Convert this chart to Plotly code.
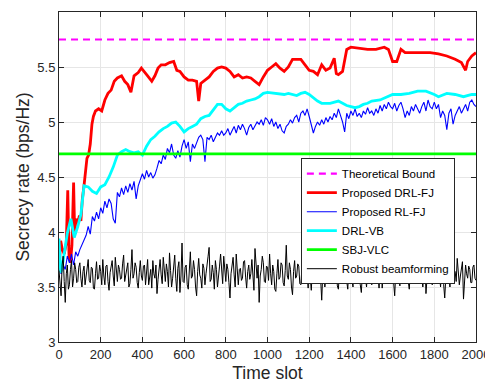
import plotly.graph_objects as go

# ---------------- data ----------------
bound_t = [0, 2000]
bound_v = [5.75, 5.75]

sbj_t = [0, 2000]
sbj_v = [4.71, 4.71]

drlfj_t = [0, 8, 15, 25, 35, 42, 48, 55, 62, 70, 75, 82, 90, 98, 105, 112, 120, 128, 134, 142,
           150, 158, 165, 175, 190, 205, 220, 235, 250, 265, 280, 300, 315, 330, 345, 360, 380,
           395, 410, 425, 445, 460, 475, 490, 510, 530, 550, 565, 580, 600, 620, 640, 660, 670,
           680, 700, 720, 740, 760, 780, 800, 820, 840, 860, 880, 900, 920, 940, 960, 980, 1000,
           1020, 1040, 1060, 1080, 1100, 1120, 1140, 1160, 1180, 1200, 1220, 1240, 1260, 1280,
           1300, 1320, 1330, 1340, 1360, 1380, 1400, 1440, 1480, 1520, 1560, 1580, 1600, 1620,
           1640, 1660, 1700, 1740, 1780, 1820, 1860, 1900, 1930, 1950, 1960, 1980, 2000]
drlfj_v = [3.65, 3.92, 3.85, 3.80, 3.90, 4.38, 3.78, 3.72, 3.88, 4.45, 4.00, 4.12, 4.08, 4.15,
           4.10, 4.30, 4.42, 4.60, 4.67, 4.70, 4.80, 4.98, 5.05, 5.10, 5.12, 5.10, 5.20, 5.26,
           5.29, 5.37, 5.40, 5.42, 5.37, 5.34, 5.27, 5.42, 5.45, 5.49, 5.45, 5.42, 5.37, 5.42,
           5.49, 5.52, 5.52, 5.54, 5.55, 5.47, 5.46, 5.41, 5.38, 5.38, 5.37, 5.19, 5.35, 5.38,
           5.41, 5.46, 5.49, 5.50, 5.49, 5.46, 5.41, 5.43, 5.40, 5.41, 5.40, 5.37, 5.34, 5.41,
           5.47, 5.50, 5.53, 5.49, 5.46, 5.50, 5.57, 5.57, 5.57, 5.52, 5.47, 5.46, 5.43, 5.52,
           5.47, 5.49, 5.58, 5.44, 5.43, 5.46, 5.66, 5.68, 5.67, 5.66, 5.66, 5.68, 5.66, 5.55,
           5.55, 5.66, 5.63, 5.63, 5.63, 5.63, 5.62, 5.60, 5.57, 5.54, 5.47, 5.55, 5.60, 5.63]

drlvb_t = [0, 8, 20, 40, 57, 73, 90, 105, 120, 140, 160, 180, 200, 220, 240, 260, 280, 300, 320,
           340, 360, 380, 400, 420, 440, 460, 480, 500, 520, 540, 560, 580, 600, 620, 640, 660,
           680, 700, 720, 740, 760, 780, 800, 820, 840, 860, 880, 900, 920, 940, 960, 980, 1000,
           1040, 1080, 1100, 1120, 1140, 1160, 1180, 1200, 1220, 1240, 1260, 1300, 1340, 1360,
           1380, 1400, 1420, 1440, 1460, 1480, 1500, 1540, 1580, 1600, 1640, 1680, 1720, 1760,
           1800, 1820, 1860, 1900, 1940, 1980, 2000]
drlvb_v = [3.94, 3.63, 3.74, 3.99, 4.12, 3.95, 4.05, 4.16, 4.42, 4.41, 4.37, 4.35, 4.41, 4.43,
           4.50, 4.59, 4.70, 4.73, 4.75, 4.73, 4.72, 4.73, 4.70, 4.78, 4.84, 4.87, 4.91, 4.94,
           4.96, 4.99, 5.00, 4.96, 4.91, 4.94, 4.96, 4.98, 5.03, 5.05, 5.06, 5.11, 5.16, 5.16,
           5.12, 5.10, 5.13, 5.16, 5.17, 5.19, 5.20, 5.21, 5.23, 5.26, 5.27, 5.26, 5.25, 5.26,
           5.25, 5.24, 5.26, 5.27, 5.25, 5.22, 5.19, 5.17, 5.17, 5.19, 5.17, 5.15, 5.14, 5.13,
           5.14, 5.16, 5.17, 5.19, 5.20, 5.23, 5.25, 5.25, 5.26, 5.28, 5.28, 5.25, 5.23, 5.26,
           5.25, 5.23, 5.25, 5.25]

# Proposed RL-FJ, one value every 10 time slots
rlfj_t = list(range(0, 2001, 10))
rlfj_v = [3.75, 3.62, 3.70, 3.66, 3.78, 3.72, 3.80, 3.70, 3.82, 3.78,
          3.84, 3.88, 3.92, 3.97, 4.05, 3.98, 4.14, 4.10, 4.18, 4.12,
          4.22, 4.17, 4.28, 4.22, 4.30, 4.26, 4.12, 4.08, 4.36, 4.32,
          4.40, 4.34, 4.42, 4.36, 4.44, 4.38, 4.46, 4.30, 4.42, 4.47,
          4.53, 4.48, 4.56, 4.50, 4.54, 4.49, 4.52, 4.58, 4.65, 4.62,
          4.70, 4.66, 4.76, 4.72, 4.80, 4.70, 4.67, 4.74, 4.68, 4.78,
          4.84, 4.76, 4.82, 4.64, 4.80, 4.76, 4.82, 4.86, 4.88, 4.84,
          4.64, 4.86, 4.84, 4.88, 4.82, 4.86, 4.90, 4.88, 4.92, 4.88,
          4.90, 4.94, 4.88, 4.92, 4.96, 4.90, 4.97, 4.93, 4.98, 4.94,
          4.88, 4.95, 4.98, 4.93, 4.96, 5.00, 4.98, 5.02, 4.97, 5.04,
          5.02, 4.98, 5.03, 4.96, 5.00, 4.94, 4.98, 4.92, 4.90, 4.96,
          4.98, 5.02, 4.99, 5.04, 5.06, 5.00, 5.08, 5.10, 5.06, 5.12,
          5.05, 4.98, 4.90, 4.96, 5.00, 4.97, 5.02, 4.98, 5.04, 5.00,
          5.05, 5.02, 5.08, 5.04, 5.12, 5.06, 5.00, 4.91, 5.08, 5.03,
          5.10, 5.06, 5.12, 5.05, 5.08, 5.04, 5.10, 5.07, 5.13, 5.08,
          5.10, 5.06, 5.12, 5.08, 5.15, 5.10, 5.16, 5.12, 5.18, 5.14,
          5.12, 5.17, 5.10, 5.15, 5.18, 5.12, 5.04, 5.10, 5.06, 5.14,
          5.10, 5.16, 5.12, 5.08, 5.14, 5.18, 5.10, 5.20, 5.14, 5.12,
          5.18, 5.12, 5.16, 5.04, 5.10, 5.06, 4.93, 5.08, 5.12, 4.98,
          5.06, 5.10, 5.14, 5.08, 5.12, 5.16, 5.10, 5.18, 5.20, 5.16,
          5.14]

# Robust beamforming, one value every 5 time slots
robust_t = list(range(0, 2001, 5))
robust_v = [3.65, 3.50, 3.42, 3.70, 3.78, 3.55, 3.36, 3.62, 3.70, 3.48, 3.52, 3.66, 3.74, 3.50, 3.58, 3.72, 3.66, 3.54, 3.55, 3.68,
            3.72, 3.58, 3.50, 3.64, 3.69, 3.52, 3.60, 3.71, 3.75, 3.56, 3.54, 3.68, 3.67, 3.49, 3.48, 3.62, 3.73, 3.57, 3.58, 3.70,
            3.64, 3.52, 3.75, 3.60, 3.52, 3.69, 3.70, 3.55, 3.47, 3.63, 3.68, 3.74, 3.60, 3.51, 3.77, 3.62, 3.55, 3.70, 3.66, 3.57,
            3.58, 3.71, 3.79, 3.55, 3.60, 3.68, 3.72, 3.50, 3.53, 3.66, 3.84, 3.58, 3.62, 3.72, 3.68, 3.54, 3.49, 3.63, 3.74, 3.60,
            3.56, 3.69, 3.70, 3.52, 3.63, 3.75, 3.52, 3.60, 3.66, 3.49, 3.74, 3.62, 3.58, 3.70, 3.44, 3.57, 3.69, 3.75, 3.61, 3.53,
            3.77, 3.60, 3.55, 3.71, 3.64, 3.50, 3.81, 3.65, 3.50, 3.58, 3.72, 3.79, 3.58, 3.46, 3.67, 3.73, 3.45, 3.60, 3.90, 3.55,
            3.54, 3.68, 3.70, 3.52, 3.48, 3.63, 3.82, 3.58, 3.60, 3.74, 3.66, 3.50, 3.42, 3.64, 3.76, 3.61, 3.58, 3.49, 3.71, 3.67,
            3.52, 3.62, 3.68, 3.78, 3.86, 3.55, 3.57, 3.70, 3.63, 3.48, 3.74, 3.66, 3.50, 3.58, 3.69, 3.80, 3.60, 3.53, 3.78, 3.64,
            3.55, 3.71, 3.66, 3.54, 3.40, 3.62, 3.72, 3.77, 3.61, 3.50, 3.80, 3.63, 3.52, 3.66, 3.67, 3.56, 3.58, 3.73, 3.74, 3.59,
            3.49, 3.64, 3.70, 3.57, 3.62, 3.75, 3.55, 3.47, 3.85, 3.66, 3.58, 3.70, 3.36, 3.60, 3.66, 3.78, 3.72, 3.55, 3.54, 3.69,
            3.68, 3.56, 3.80, 3.62, 3.52, 3.70, 3.64, 3.48, 3.46, 3.62, 3.75, 3.57, 3.59, 3.72, 3.70, 3.54, 3.51, 3.65, 3.88, 3.60,
            3.57, 3.72, 3.66, 3.50, 3.43, 3.64, 3.74, 3.58, 3.60, 3.71, 3.69, 3.53, 3.52, 3.67, 3.78, 3.60, 3.62, 3.74, 3.55, 3.49,
            3.70, 3.58, 3.47, 3.66, 3.64, 3.53, 3.82, 3.66, 3.56, 3.71, 3.68, 3.57, 3.38, 3.62, 3.73, 3.50, 3.60, 3.70, 3.66, 3.54,
            3.53, 3.68, 3.76, 3.59, 3.61, 3.72, 3.69, 3.51, 3.48, 3.64, 3.72, 3.60, 3.58, 3.75, 3.84, 3.62, 3.55, 3.48, 3.67, 3.73,
            3.62, 3.54, 3.50, 3.69, 3.74, 3.58, 3.60, 3.71, 3.69, 3.52, 3.45, 3.63, 3.78, 3.66, 3.57, 3.50, 3.65, 3.74, 3.71, 3.58,
            3.52, 3.66, 3.68, 3.55, 3.86, 3.70, 3.58, 3.49, 3.64, 3.72, 3.49, 3.60, 3.73, 3.68, 3.61, 3.54, 3.70, 3.76, 3.55, 3.62,
            3.66, 3.54, 3.42, 3.63, 3.72, 3.80, 3.59, 3.51, 3.80, 3.66, 3.53, 3.60, 3.68, 3.74, 3.62, 3.55, 3.48, 3.64, 3.74, 3.58,
            3.60, 3.72, 3.70, 3.56, 3.55, 3.68, 3.83, 3.62, 3.58, 3.50, 3.66, 3.75, 3.44, 3.58, 3.71, 3.64, 3.63, 3.70, 3.52, 3.61,
            3.68, 3.54, 3.58, 3.71, 3.78, 3.60, 3.50, 3.66, 3.65, 3.52, 3.40, 3.58, 3.72, 3.69, 3.60, 3.50, 3.69, 3.74, 3.55, 3.63,
            3.64, 3.55, 3.76, 3.66, 3.52, 3.60, 3.67, 3.73, 3.39, 3.56, 3.70, 3.62, 3.58, 3.69, 3.66, 3.54, 3.54, 3.68, 3.70, 3.58,
            3.56]

x_ticks = [0, 200, 400, 600, 800, 1000, 1200, 1400, 1600, 1800, 2000]
y_ticks = [3, 3.5, 4, 4.5, 5, 5.5, 6]
y_tick_labels = ["3", "3.5", "4", "4.5", "5", "5.5", "6"]

# ---------------- figure ----------------
fig = go.Figure()
fig.add_trace(go.Scatter(x=bound_t, y=bound_v, mode="lines", name="Theoretical Bound",
                         line=dict(color="#ff00ff", width=2.2, dash="7px,5px")))
fig.add_trace(go.Scatter(x=drlfj_t, y=drlfj_v, mode="lines", name="Proposed DRL-FJ",
                         line=dict(color="#ff0000", width=2.8)))
fig.add_trace(go.Scatter(x=rlfj_t, y=rlfj_v, mode="lines", name="Proposed RL-FJ",
                         line=dict(color="#0000ff", width=1.1)))
fig.add_trace(go.Scatter(x=drlvb_t, y=drlvb_v, mode="lines", name="DRL-VB",
                         line=dict(color="#00ffff", width=2.8)))
fig.add_trace(go.Scatter(x=sbj_t, y=sbj_v, mode="lines", name="SBJ-VLC",
                         line=dict(color="#00ff00", width=2.8)))
fig.add_trace(go.Scatter(x=robust_t, y=robust_v, mode="lines", name="Robust beamforming",
                         line=dict(color="#000000", width=1.0)))

axis_common = dict(showline=True, linecolor="#262626", linewidth=1, mirror="ticks",
                   ticks="inside", ticklen=5, tickcolor="#262626", automargin=False,
                   showgrid=True, gridcolor="#e6e6e6", gridwidth=1, zeroline=False,
                   tickfont=dict(family="Liberation Sans, Arial, sans-serif", size=13, color="#262626"))

# the page body adds an 8 px offset, so the figure is 8 px smaller than the window
fig.update_layout(
    width=485, height=380,
    margin=dict(l=51, r=17, t=4, b=46),
    paper_bgcolor="white", plot_bgcolor="white",
    font=dict(family="Liberation Sans, Arial, sans-serif", color="#262626"),
    xaxis=dict(range=[0, 2000], tickvals=x_ticks, title=dict(text="Time slot", font=dict(size=17.5), standoff=6),
               **axis_common),
    yaxis=dict(range=[3, 6], tickvals=y_ticks, ticktext=y_tick_labels,
               title=dict(text="Secrecy rate (bps/Hz)", font=dict(size=17.5), standoff=3),
               **axis_common),
    legend=dict(x=0.58, y=0.557, xanchor="left", yanchor="top",
                bgcolor="white", bordercolor="#262626", borderwidth=1,
                font=dict(size=11.5, color="#000000"), itemwidth=30,
                tracegroupgap=0),
    showlegend=True,
)

fig.write_html("out.html")
